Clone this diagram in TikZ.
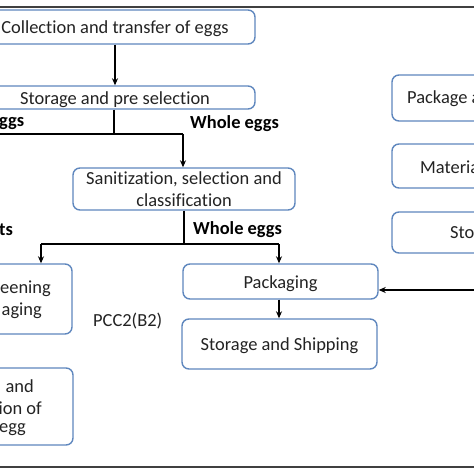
\documentclass[tikz,border=0pt]{standalone}
\usepackage{fontspec}
\setmainfont{Carlito}[Ligatures={NoCommon}]
\usetikzlibrary{arrows.meta}
\definecolor{boxblue}{RGB}{95,135,190}
\definecolor{txt}{RGB}{35,35,35}
\begin{document}
\begin{tikzpicture}[x=1bp,y=-1bp,
  box/.style={draw=boxblue,line width=1.4bp,rounded corners=7bp,fill=white,
    inner sep=0pt,text=txt,align=center,font=\fontsize{18.5}{22}\selectfont},
  oneline/.style={text height=17.5bp,text depth=4bp},
  lbl/.style={inner sep=0pt,text=txt,font=\fontsize{18.5}{22}\selectfont},
  blbl/.style={lbl,font=\fontsize{18.5}{22}\selectfont\bfseries,text=black},
  conn/.style={draw=black,line width=1.4bp},
  arr/.style={conn,-{Stealth[length=7bp,width=6bp]}},
  frame/.style={draw=black!75,line width=2bp}]
\useasboundingbox (0,0) rectangle (474,474);
\clip (0,0) rectangle (474,474);
\fill[white] (0,0) rectangle (474,474);
% frame lines
\coordinate (tl) at (-5,7); \coordinate (tr) at (480,7);
\coordinate (bl) at (-5,467); \coordinate (br) at (480,467);
\draw[frame] (tl) -- (tr);
\draw[frame] (bl) -- (br);
% boxes
\node[box,oneline,minimum width=280bp,minimum height=34bp] (b1) at (115,27) {Collection and transfer of eggs};
\node[box,oneline,minimum width=280bp,minimum height=23bp] (b2) at (115,97.5) {Storage and pre selection};
\node[box,minimum width=222bp,minimum height=42bp] (b3) at (184,189) {Sanitization, selection and\\classification};
\node[box,minimum width=132bp,minimum height=70bp] (bA) at (6,299) {};
\node[box,minimum width=134bp,minimum height=77bp] (bB) at (6,406.5) {};
\node[box,oneline,minimum width=195bp,minimum height=35bp] (pk) at (280.5,281.5) {Packaging};
\node[box,oneline,minimum width=195bp,minimum height=50bp] (ss) at (279.5,344) {Storage and Shipping};
\node[box,minimum width=140bp,minimum height=46bp] (r1) at (462,98) {};
\node[box,minimum width=140bp,minimum height=44bp] (r2) at (462,166) {};
\node[box,minimum width=140bp,minimum height=41bp] (r3) at (462,232.5) {};
% partial texts
\node[lbl,anchor=east] (tA1) at (51,289) {eening};
\node[lbl,anchor=east] (tA2) at (42,311) {aging};
\node[lbl,anchor=east] (tB1) at (34,386) {and};
\node[lbl,anchor=east] (tB2) at (42,408) {ion of};
\node[lbl,anchor=east] (tB3) at (26,430) {egg};
\node[lbl,anchor=west] (tr1) at (407,99) {Package a};
\node[lbl,anchor=west] (tr2) at (420,167) {Materia};
\node[lbl,anchor=west] (tr3) at (450,233) {Sto};
% labels
\node[blbl,anchor=west] (l1) at (-1,124) {ggs};
\node[blbl,anchor=west] (l2) at (190,124) {Whole eggs};
\node[blbl,anchor=west] (l3) at (193,230) {Whole eggs};
\node[blbl,anchor=west] (l4) at (-1,230) {ts};
\node[lbl,anchor=west] (pcc) at (93,321) {PCC2(B2)};
% connectors
\draw[arr] (b1) -- (b2);
\coordinate (j1) at (114,134);
\coordinate (j1l) at (-10,134);
\coordinate (j1r) at (183,134);
\draw[conn] (b2.south -| j1) -- (j1);
\draw[conn] (j1l) -- (j1r);
\draw[arr] (j1r) -- (j1r |- b3.north);
\coordinate (j2) at (184,244);
\coordinate (j2l) at (41,244);
\coordinate (j2r) at (279,244);
\draw[conn] (b3.south) -- (j2);
\draw[conn] (j2l) -- (j2r);
\draw[arr] (j2l) -- (j2l |- bA.north);
\draw[arr] (j2r) -- (j2r |- pk.north);
\draw[arr] (pk.south -| j2r) -- (j2r |- ss.north);
\coordinate (rin) at (480,290);
\draw[arr] (rin) -- (rin -| pk.east);
\end{tikzpicture}
\end{document}
